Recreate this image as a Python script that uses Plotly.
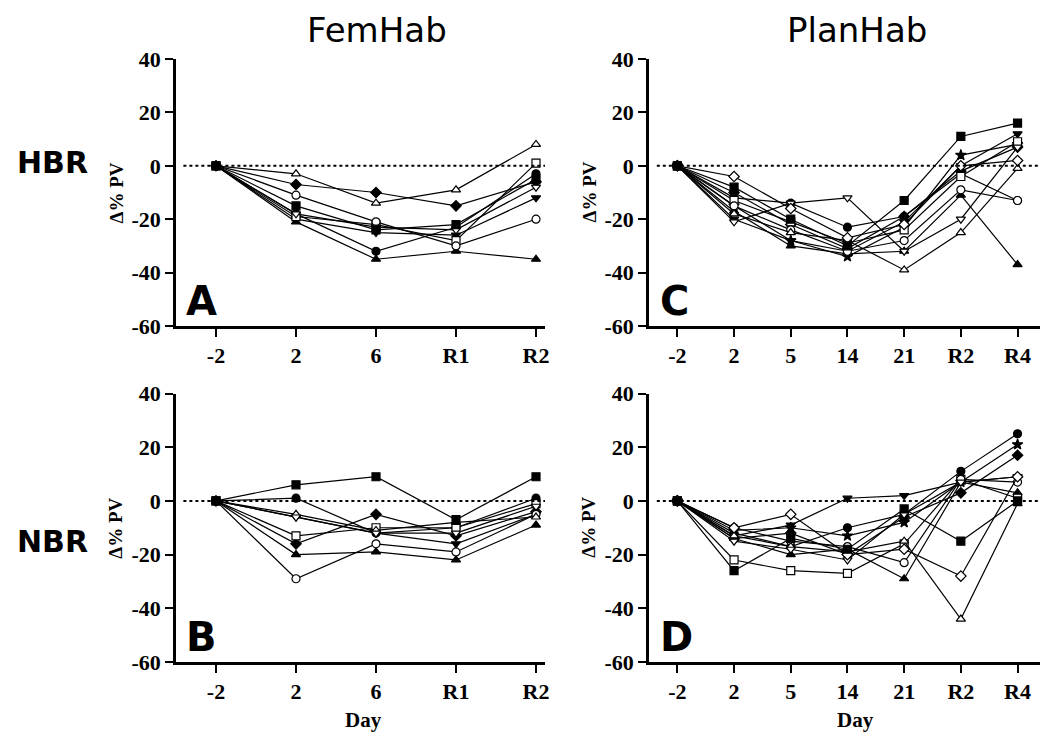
import plotly.graph_objects as go

# ---- data -------------------------------------------------------------
fem_days = ["-2", "2", "6", "R1", "R2"]
plan_days = ["-2", "2", "5", "14", "21", "R2", "R4"]

# symbol for each subject (filled ones drawn with black fill, open ones white)
fem_symbols = ["circle", "triangle-up", "triangle-down", "diamond",
               "square-open", "circle-open", "triangle-up-open",
               "triangle-down-open", "square"]
plan_symbols = ["circle", "triangle-up", "triangle-down", "diamond", "star",
                "square-open", "circle-open", "triangle-up-open",
                "triangle-down-open", "diamond-open", "square"]

# FemHab, HBR (panel A)
hbr_fem = [
    [0, -18, -32, -23, -3],
    [0, -21, -35, -32, -35],
    [0, -20, -25, -26, -12],
    [0, -7, -10, -15, -6],
    [0, -19, -22, -28, 1],
    [0, -11, -21, -30, -20],
    [0, -3, -14, -9, 8],
    [0, -18, -23, -24, -8],
    [0, -15, -24, -22, -5],
]

# FemHab, NBR (panel B)
nbr_fem = [
    [0, 1, -12, -10, 1],
    [0, -20, -19, -22, -9],
    [0, -6, -12, -16, -5],
    [0, -16, -5, -13, -4],
    [0, -13, -10, -10, -1],
    [0, -29, -16, -19, -5],
    [0, -5, -11, -8, -6],
    [0, -6, -12, -12, -2],
    [0, 6, 9, -7, 9],
]

# PlanHab, HBR (panel C)
hbr_plan = [
    [0, -12, -14, -23, -19, -3, -13],
    [0, -17, -30, -33, -32, -11, -37],
    [0, -20, -28, -32, -21, 0, 12],
    [0, -10, -22, -31, -19, -2, 7],
    [0, -15, -28, -34, -23, 4, 8],
    [0, -13, -21, -29, -24, -4, 9],
    [0, -15, -24, -32, -28, -9, -13],
    [0, -18, -25, -28, -39, -25, -1],
    [0, -21, -14, -12, -32, -20, 7],
    [0, -4, -16, -27, -22, 0, 2],
    [0, -8, -20, -30, -13, 11, 16],
]

# PlanHab, NBR (panel D)
nbr_plan = [
    [0, -12, -17, -10, -5, 11, 25],
    [0, -14, -20, -18, -29, 7, 3],
    [0, -13, -9, 1, 2, 7, 9],
    [0, -14, -12, -20, -6, 3, 17],
    [0, -11, -10, -13, -8, 7, 21],
    [0, -22, -26, -27, -16, 8, 1],
    [0, -10, -15, -17, -23, 8, 7],
    [0, -13, -17, -19, -15, -44, -1],
    [0, -15, -18, -22, -5, 7, 9],
    [0, -10, -5, -20, -18, -28, 9],
    [0, -26, -14, -18, -3, -15, 0],
]

y_ticks = [40, 20, 0, -20, -40, -60]

# ---- layout geometry (paper fractions) ---------------------------------
W, H = 1043, 734
col_x = {"fem": (176 / W, 545 / W), "plan": (649 / W, 1040 / W)}
row_y = {"hbr": (1 - 326 / H, 1 - 59 / H), "nbr": (1 - 662 / H, 1 - 393.5 / H)}

panels = [
    # axis suffix, column, row, days, data, symbols, letter
    ("", "fem", "hbr", fem_days, hbr_fem, fem_symbols, "A"),
    ("2", "plan", "hbr", plan_days, hbr_plan, plan_symbols, "C"),
    ("3", "fem", "nbr", fem_days, nbr_fem, fem_symbols, "B"),
    ("4", "plan", "nbr", plan_days, nbr_plan, plan_symbols, "D"),
]

serif = "Liberation Serif"
sans = "DejaVu Sans"
tick_font = dict(family=serif, size=22, color="black", weight="bold")

fig = go.Figure()
layout = dict(width=W, height=H, margin=dict(l=0, r=0, t=0, b=0, autoexpand=False),
              paper_bgcolor="white", plot_bgcolor="white", showlegend=False)
shapes, annotations = [], []

for suf, col, row, days, data, symbols, letter in panels:
    xa, ya = "x" + suf, "y" + suf
    for vals, sym in zip(data, symbols):
        is_open = sym.endswith("-open")
        base = sym.replace("-open", "")
        fig.add_trace(go.Scatter(
            x=days, y=vals, xaxis=xa, yaxis=ya, mode="lines+markers",
            line=dict(color="black", width=1.2),
            marker=dict(symbol=base, size=8,
                        color="white" if is_open else "black",
                        line=dict(color="black", width=1.2)),
        ))
    spacing = 80 if col == "fem" else 56.7
    span_px = (col_x[col][1] - col_x[col][0]) * W
    layout["xaxis" + suf] = dict(
        domain=col_x[col], anchor=ya, type="category",
        categoryorder="array", categoryarray=days,
        range=[-0.5, -0.5 + span_px / spacing], automargin=False,
        showline=True, linecolor="black", linewidth=2.5,
        ticks="outside", ticklen=8, tickwidth=2, tickcolor="black",
        showgrid=False, zeroline=False, tickfont=tick_font,
    )
    layout["yaxis" + suf] = dict(
        domain=row_y[row], anchor=xa, range=[-60, 40], automargin=False,
        tickvals=y_ticks, ticktext=[str(v) for v in y_ticks],
        showline=True, linecolor="black", linewidth=2.5,
        ticks="outside", ticklen=8, tickwidth=2, tickcolor="black",
        showgrid=False, zeroline=False, tickfont=tick_font,
    )
    # dotted reference line at zero
    shapes.append(dict(type="line", xref=xa + " domain", yref=ya,
                       x0=0.02, x1=1, y0=0, y1=0,
                       line=dict(color="black", width=2, dash="dot")))
    # panel letter
    annotations.append(dict(text=letter, xref=xa + " domain", yref=ya + " domain",
                            x=0.022, y=0.0, xanchor="left", yanchor="bottom",
                            showarrow=False,
                            font=dict(family=sans, size=40, color="black", weight="bold")))
    # y-axis title
    annotations.append(dict(text="Δ% PV", xref="paper", yref=ya + " domain",
                            x=col_x[col][0] - 60 / W, y=0.5, textangle=-90,
                            xanchor="center", yanchor="middle", showarrow=False,
                            font=dict(family=serif, size=19, color="black", weight="bold")))

# "Day" labels under the bottom row
for x in (363, 855):
    annotations.append(dict(text="Day", xref="paper", yref="paper",
                            x=x / W, y=1 - 720 / H,
                            xanchor="center", yanchor="middle", showarrow=False,
                            font=dict(family=serif, size=21, color="black", weight="bold")))

# column and row headings
for text, x in (("FemHab", 377), ("PlanHab", 857)):
    annotations.append(dict(text=text, xref="paper", yref="paper", x=x / W, y=1 - 30 / H,
                            xanchor="center", yanchor="middle", showarrow=False,
                            font=dict(family=sans, size=34, color="black")))
for text, y in (("HBR", 162), ("NBR", 541)):
    annotations.append(dict(text=text, xref="paper", yref="paper", x=52 / W, y=1 - y / H,
                            xanchor="center", yanchor="middle", showarrow=False,
                            font=dict(family=sans, size=30, color="black", weight="bold")))

layout["shapes"] = shapes
layout["annotations"] = annotations
fig.update_layout(**layout)
fig.write_html("out.html")
